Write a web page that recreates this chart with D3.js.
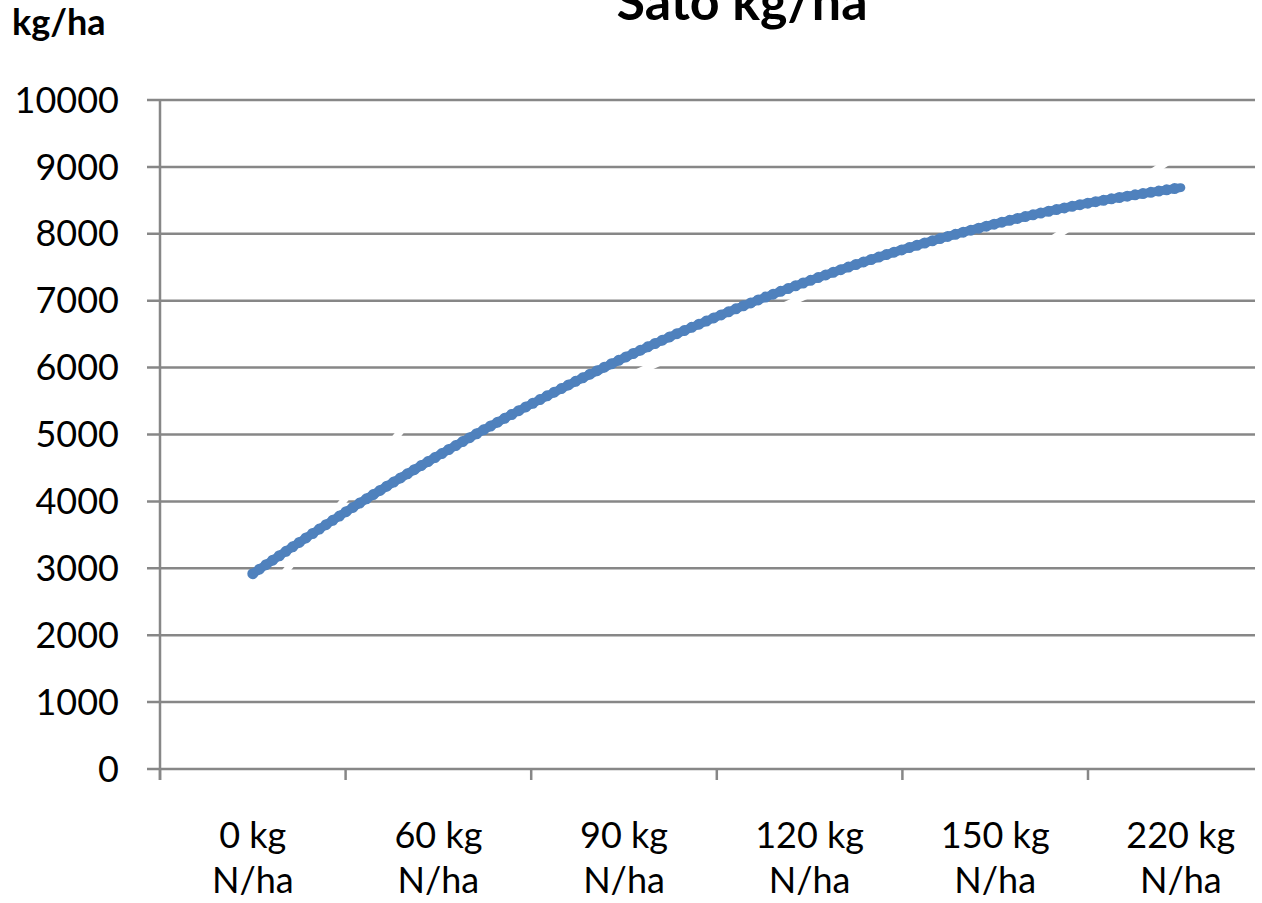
<!DOCTYPE html>
<html>
<head>
<meta charset="utf-8">
<script src="https://cdn.jsdelivr.net/npm/d3@7"></script>
<style>
  body { margin: 0; background: #fff; }
  text { font-family: Lato, "Open Sans", sans-serif; fill: #000; }
</style>
</head>
<body>
<div id="chart"></div>
<script>
// categories (x axis)
var categories = ["0 kg N/ha", "60 kg N/ha", "90 kg N/ha", "120 kg N/ha", "150 kg N/ha", "220 kg N/ha"];
// measured yield, drawn as a white line in the original
var yieldValues = [2360, 5735, 5837, 7099, 7352, 9208];
// trend line, at half category steps
var trendIndex = [0, 0.5, 1, 1.5, 2, 2.5, 3, 3.5, 4, 4.5, 5];
var trendValues = [2920, 3841, 4686, 5454, 6146, 6761, 7300, 7763, 8148, 8458, 8690];
// y tick labels
var yTicks = [0, 1000, 2000, 3000, 4000, 5000, 6000, 7000, 8000, 9000, 10000];

var width = 1262, height = 903;
var plot = {left: 160, right: 1255, top: 100, bottom: 769};

var svg = d3.select("#chart")
    .append("svg")
    .attr("width", width)
    .attr("height", height);

var x = d3.scaleBand()
    .domain(categories)
    .range([plot.left, 1273.6]);

var y = d3.scaleLinear()
    .domain([0, 10000])
    .range([plot.bottom, plot.top]);

var xi = d3.scaleLinear()
    .domain([0, categories.length - 1])
    .range([x(categories[0]) + x.bandwidth() / 2, x(categories[categories.length - 1]) + x.bandwidth() / 2]);

var gridColor = "#878787";

// gridlines + y ticks
svg.append("g")
    .attr("class", "grid")
    .selectAll("line")
    .data(yTicks)
    .enter().append("line")
    .attr("x1", plot.left - 13)
    .attr("x2", plot.right)
    .attr("y1", function(d) { return y(d); })
    .attr("y2", function(d) { return y(d); })
    .attr("stroke", gridColor)
    .attr("stroke-width", 2.5);

// y axis labels
svg.append("g")
    .attr("class", "y-labels")
    .selectAll("text")
    .data(yTicks)
    .enter().append("text")
    .attr("x", 119)
    .attr("y", function(d) { return y(d); })
    .attr("dy", "0.35em")
    .attr("text-anchor", "end")
    .attr("font-size", "36px")
    .text(function(d) { return d; });

// y axis line
svg.append("line")
    .attr("x1", plot.left).attr("x2", plot.left)
    .attr("y1", plot.top).attr("y2", plot.bottom + 11)
    .attr("stroke", gridColor)
    .attr("stroke-width", 2.5);

// x ticks at category boundaries
svg.append("g")
    .attr("class", "x-ticks")
    .selectAll("line")
    .data(categories)
    .enter().append("line")
    .attr("x1", function(d) { return x(d); })
    .attr("x2", function(d) { return x(d); })
    .attr("y1", plot.bottom)
    .attr("y2", plot.bottom + 11)
    .attr("stroke", gridColor)
    .attr("stroke-width", 2.5);

// x labels, two lines
var xl = svg.append("g")
    .attr("class", "x-labels")
    .selectAll("text")
    .data(categories)
    .enter().append("text")
    .attr("text-anchor", "middle")
    .attr("font-size", "36px");

xl.each(function(d) {
    var cut = d.lastIndexOf(" ");
    var cx = x(d) + x.bandwidth() / 2;
    var t = d3.select(this);
    t.append("tspan").attr("x", cx).attr("y", 848).text(d.slice(0, cut));
    t.append("tspan").attr("x", cx).attr("y", 893).text(d.slice(cut + 1));
});

// measured series (white)
var line = d3.line()
    .x(function(d, i) { return x(categories[i]) + x.bandwidth() / 2; })
    .y(function(d) { return y(d); });

svg.append("path")
    .datum(yieldValues)
    .attr("d", line)
    .attr("fill", "none")
    .attr("stroke", "#fff")
    .attr("stroke-width", 7);

// trend line (blue)
var trend = d3.line()
    .curve(d3.curveNatural)
    .x(function(d, i) { return xi(trendIndex[i]); })
    .y(function(d) { return y(d); });

svg.append("path")
    .datum(trendValues)
    .attr("d", trend)
    .attr("fill", "none")
    .attr("stroke", "#4F81BD")
    .attr("stroke-width", 9)
    .attr("stroke-linecap", "round");

svg.append("path")
    .datum(trendValues)
    .attr("d", trend)
    .attr("fill", "none")
    .attr("stroke", "#4F81BD")
    .attr("stroke-width", 11)
    .attr("stroke-linecap", "round")
    .attr("stroke-dasharray", "0 8");

// title (cut at the top edge)
svg.append("text")
    .attr("x", 742)
    .attr("y", 20)
    .attr("text-anchor", "middle")
    .attr("font-size", "52px")
    .attr("font-weight", "bold")
    .text("Sato kg/ha");

// y axis unit
svg.append("text")
    .attr("x", 12)
    .attr("y", 35)
    .attr("font-size", "36px")
    .attr("font-weight", "bold")
    .text("kg/ha");
</script>
</body>
</html>
